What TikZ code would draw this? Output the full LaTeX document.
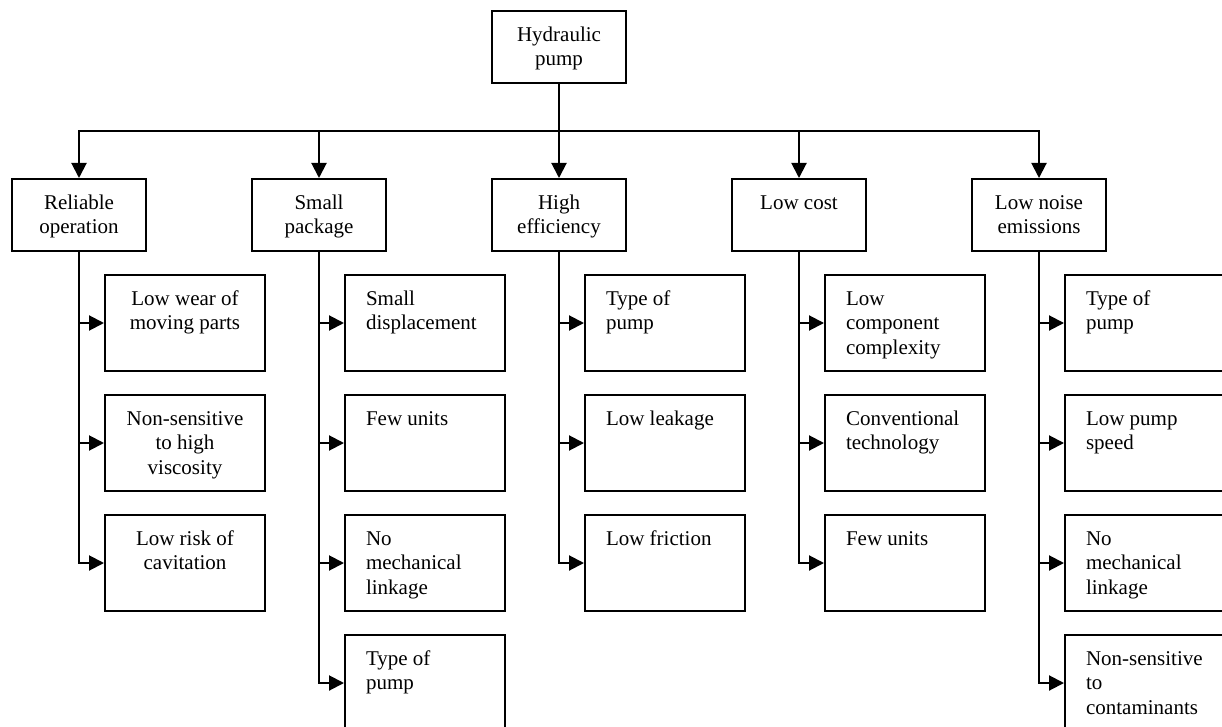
\documentclass[tikz,border=0pt]{standalone}
\usepackage{fontspec}
\setmainfont{Liberation Serif}
\usetikzlibrary{arrows.meta}

% cell content: width, height, alignment, text (top aligned)
\newcommand{\cellbox}[4]{\parbox[c][#2pt][t]{#1pt}{\fontsize{21pt}{24.5pt}\selectfont#3\vspace*{13pt}\strut#4}}
\newcommand{\ctr}{\centering}
\newcommand{\lft}{\raggedright\leftskip=21pt }

\begin{document}
\begin{tikzpicture}[x=1pt,y=-1pt,
  box/.style={draw, line width=2pt, inner sep=0pt, fill=white},
  arr/.style={line width=2pt, -{Triangle[length=15pt,width=15pt]}},
  conn/.style={line width=2pt}]
\useasboundingbox (0,0) rectangle (1222,727);
\fill[white] (0,0) rectangle (1222,727);
\clip (0,0) rectangle (1222,727);

% root
\node[box] (root) at (559,47) {\cellbox{134}{72}{\ctr}{Hydraulic\\pump}};

% first level
\node[box] (a) at (79,215)  {\cellbox{134}{72}{\ctr}{Reliable\\operation}};
\node[box] (b) at (319,215) {\cellbox{134}{72}{\ctr}{Small\\package}};
\node[box] (c) at (559,215) {\cellbox{134}{72}{\ctr}{High\\efficiency}};
\node[box] (d) at (799,215) {\cellbox{134}{72}{\ctr}{Low cost}};
\node[box] (e) at (1039,215){\cellbox{134}{72}{\ctr}{Low noise\\emissions}};

% second level
\node[box] (a1) at (185,323) {\cellbox{160}{96}{\ctr}{Low wear of\\moving parts}};
\node[box] (a2) at (185,443) {\cellbox{160}{96}{\ctr}{Non-sensitive\\to high\\viscosity}};
\node[box] (a3) at (185,563) {\cellbox{160}{96}{\ctr}{Low risk of\\cavitation}};

\node[box] (b1) at (425,323) {\cellbox{160}{96}{\lft}{Small\\displacement}};
\node[box] (b2) at (425,443) {\cellbox{160}{96}{\lft}{Few units}};
\node[box] (b3) at (425,563) {\cellbox{160}{96}{\lft}{No\\mechanical\\linkage}};
\node[box] (b4) at (425,683) {\cellbox{160}{96}{\lft}{Type of\\pump}};

\node[box] (c1) at (665,323) {\cellbox{160}{96}{\lft}{Type of\\pump}};
\node[box] (c2) at (665,443) {\cellbox{160}{96}{\lft}{Low leakage}};
\node[box] (c3) at (665,563) {\cellbox{160}{96}{\lft}{Low friction}};

\node[box] (d1) at (905,323) {\cellbox{160}{96}{\lft}{Low\\component\\complexity}};
\node[box] (d2) at (905,443) {\cellbox{160}{96}{\lft}{Conventional\\technology}};
\node[box] (d3) at (905,563) {\cellbox{160}{96}{\lft}{Few units}};

\node[box] (e1) at (1145,323) {\cellbox{160}{96}{\lft}{Type of\\pump}};
\node[box] (e2) at (1145,443) {\cellbox{160}{96}{\lft}{Low pump\\speed}};
\node[box] (e3) at (1145,563) {\cellbox{160}{96}{\lft}{No\\mechanical\\linkage}};
\node[box] (e4) at (1145,683) {\cellbox{160}{96}{\lft}{Non-sensitive\\to\\contaminants}};

% root to first level
\coordinate (bus) at (559,131);
\draw[arr] (root.south) -- (c.north);
\foreach \n in {a,b,d,e}
  \draw[arr] (root.south) -- (bus) -| (\n.north);

% first level to second level
\foreach \p/\kids in {a/{a1,a2,a3}, b/{b1,b2,b3,b4}, c/{c1,c2,c3}, d/{d1,d2,d3}, e/{e1,e2,e3,e4}}
  \foreach \k in \kids
    \draw[arr] (\p.south) |- (\k.west);
\end{tikzpicture}
\end{document}
